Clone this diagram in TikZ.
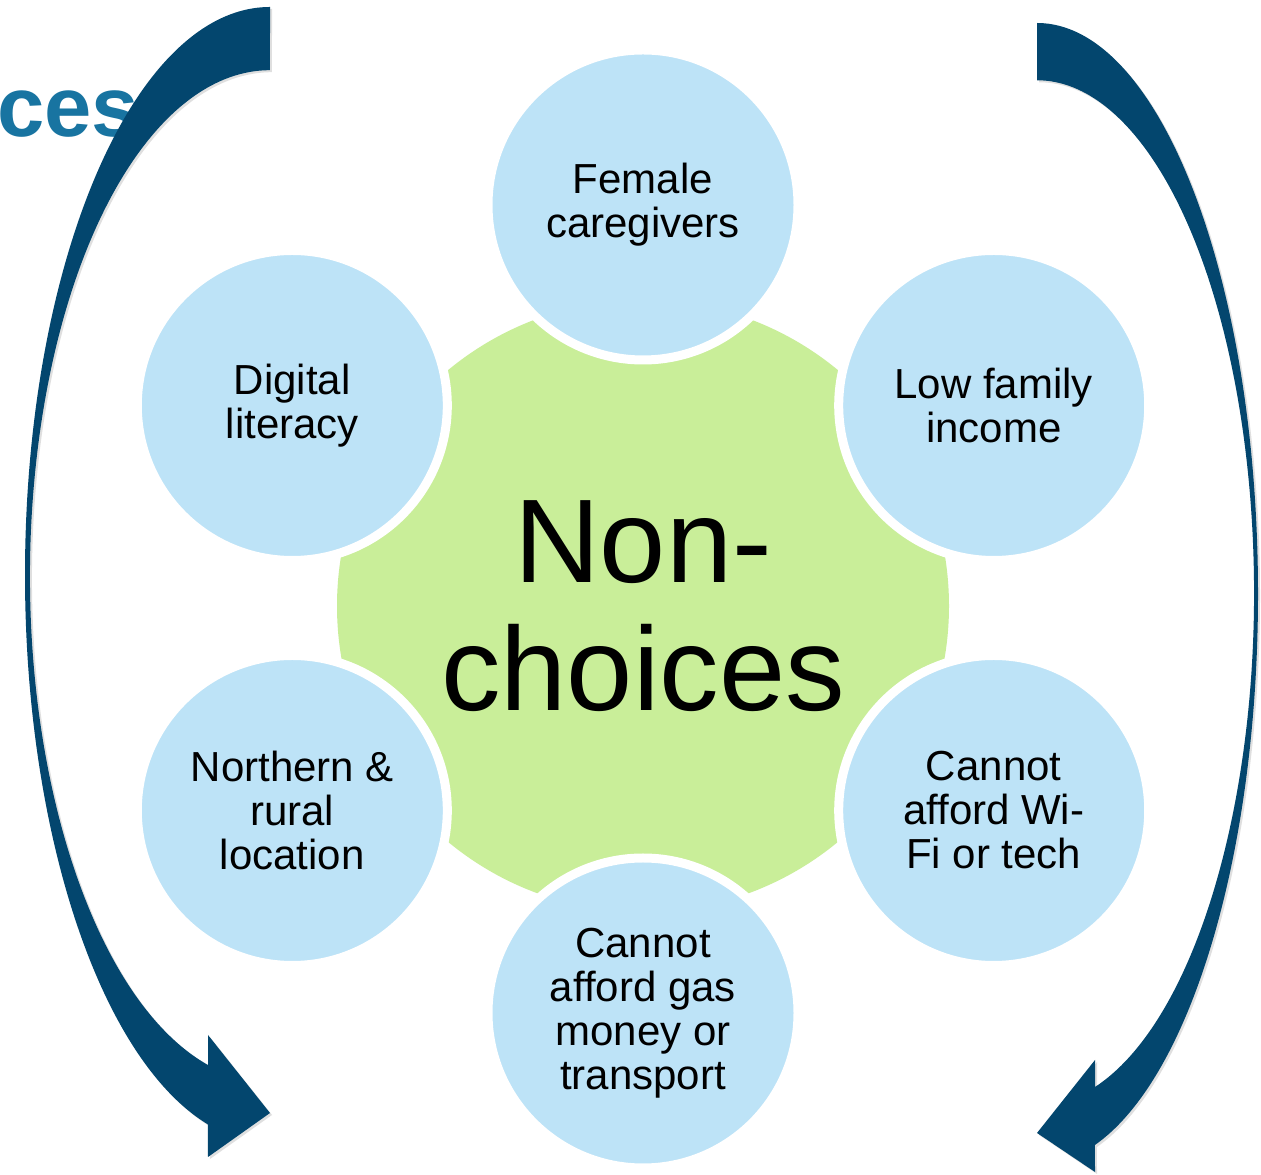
\documentclass[tikz,border=0pt]{standalone}
\usepackage{fontspec}
\setmainfont{Liberation Sans}
\usetikzlibrary{shadows}

\definecolor{arrowblue}{HTML}{03466E}
\definecolor{bubbleblue}{HTML}{BDE3F7}
\definecolor{coregreen}{HTML}{C9EE99}
\definecolor{titleblue}{HTML}{1874A1}

\begin{document}
\begin{tikzpicture}[x=1pt, y=1pt]
	\tikzstyle{bubble} = [circle, fill=bubbleblue, draw=white, line width=9pt, minimum size=310pt, inner sep=0pt, align=center, font=\fontsize{42}{44}\selectfont]
	\tikzstyle{core} = [circle, fill=coregreen, minimum size=612pt, inner sep=0pt, align=center, font=\fontsize{119}{128}\selectfont]
	\tikzstyle{curvearrow} = [fill=arrowblue, drop shadow={shadow xshift=2pt, shadow yshift=-2pt, opacity=0.25}]

	\useasboundingbox (0, 0) rectangle (1261, 1175);
	\fill[white] (0, 0) rectangle (1261, 1175);

	\node[font=\fontsize{85}{90}\selectfont\bfseries, text=titleblue, anchor=base west, inner sep=0pt] at (-3, 1038) (t0) {ces};

	\node[core] 	at (643, 569)		(n0)	{Non-\\choices};

	\node[bubble]	at (643, 970)		(n1)	{Female\\caregivers};
	\node[bubble]	at (993.7, 769.5)	(n2)	{Low family\\income};
	\node[bubble]	at (993.7, 364.5)	(n3)	{Cannot\\afford Wi-\\Fi or tech};
	\node[bubble]	at (643, 162)		(n4)	{Cannot\\afford gas\\money or\\transport};
	\node[bubble]	at (292.3, 364.5)	(n5)	{Northern \&\\rural\\location};
	\node[bubble]	at (292.3, 769.5)	(n6)	{Digital\\literacy};

	\path[curvearrow] (270, 1168) arc[start angle=90, end angle=255.3, x radius=245, y radius=568]
		-- (208, 18) -- (270, 62) -- (208, 140) -- (208, 110)
		arc[start angle=255.03, end angle=90, x radius=240, y radius=506] -- cycle;

	\path[curvearrow] (1037, 1152) arc[start angle=90, end angle=-74.8, x radius=221, y radius=571]
		-- (1095, 3) -- (1037, 42) -- (1095, 115) -- (1095, 88)
		arc[start angle=-74.5, end angle=90, x radius=217, y radius=512.7] -- cycle;
\end{tikzpicture}
\end{document}
